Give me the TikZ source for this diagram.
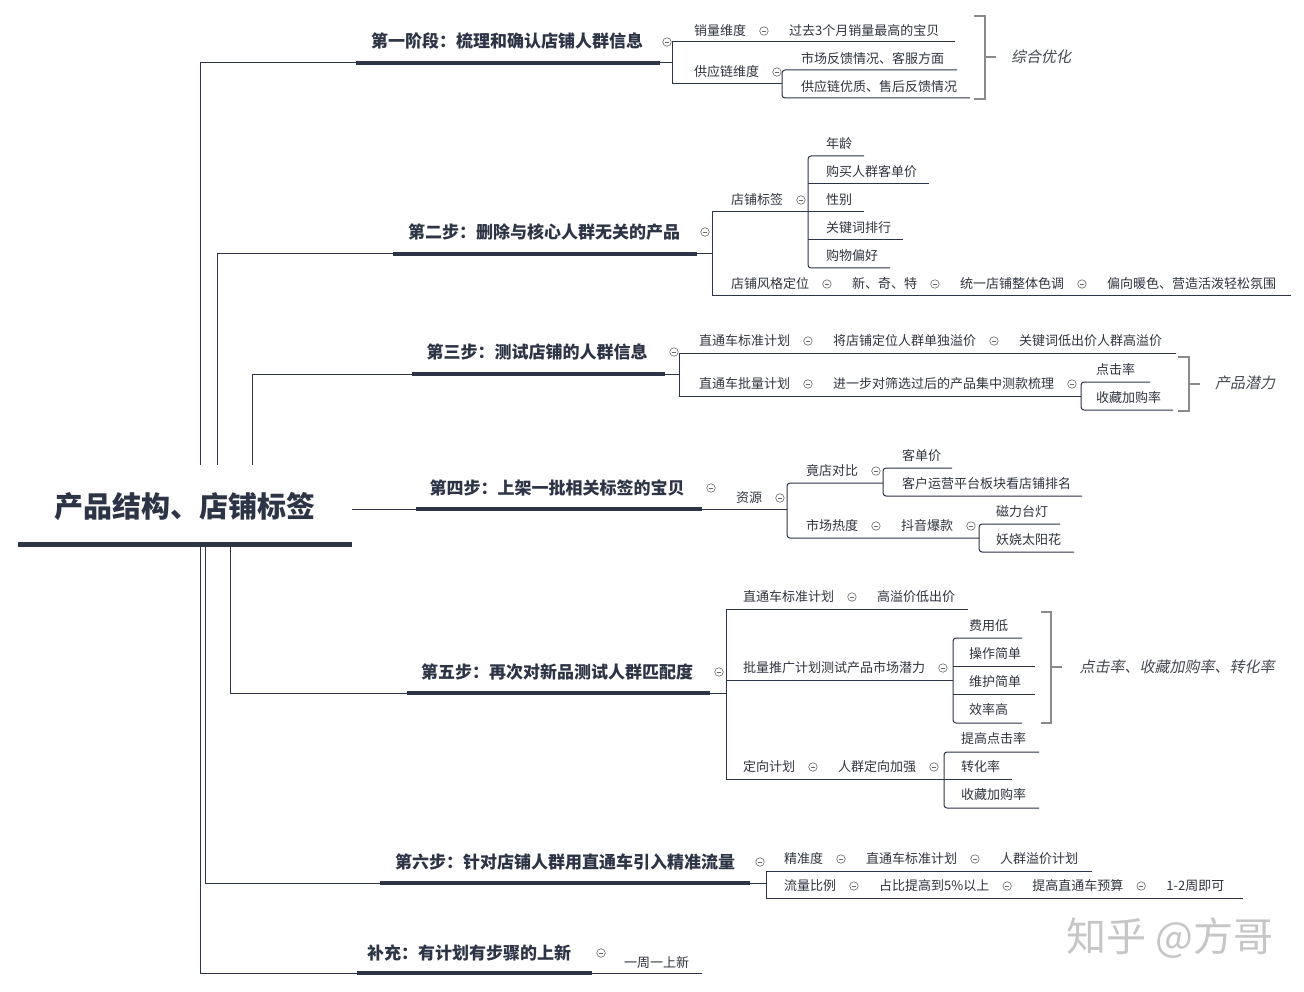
\documentclass[tikz,border=0pt]{standalone}
\usepackage{fontspec}
\setmainfont{Noto Sans CJK SC}[AutoFakeSlant=0.2]
\usetikzlibrary{positioning}

\definecolor{ink}{HTML}{2C3446}
\definecolor{txt}{HTML}{30343F}
\definecolor{brk}{HTML}{8A8A8A}
\definecolor{foldc}{HTML}{666666}

\tikzset{
  root/.style={font=\bfseries\fontsize{29}{29}\selectfont, text=ink, inner sep=0pt},
  topic/.style={font=\bfseries\fontsize{17}{17}\selectfont, text=ink, inner sep=0pt},
  lbl/.style={font=\fontsize{13}{13}\selectfont, text=txt, inner sep=0pt, anchor=west},
  note/.style={font=\itshape\fontsize{15}{15}\selectfont, text=txt!90, inner sep=0pt},
  bar/.style={line width=4pt, ink},
  rootbar/.style={line width=5pt, ink},
  link/.style={line width=1pt, ink},
  twig/.style={link, rounded corners=3pt},
  brace/.style={line width=1.4pt, brk},
  fold/.style={circle, draw=foldc, line width=0.6pt, fill=white, minimum size=8.5pt, inner sep=0pt,
    path picture={\draw[foldc, line width=0.6pt] ([xshift=-2.2pt]path picture bounding box.center) -- ([xshift=2.2pt]path picture bounding box.center);}},
  foldat/.style={fold, right=13pt of #1},
  follow/.style={lbl, right=20.5pt of #1},
}

\begin{document}
\begin{tikzpicture}[x=1pt, y=-1pt]
        \useasboundingbox[fill=white] (0,0) rectangle (1304,992);
        % Root
        \node[root] (root) at (185,507) {产品结构、店铺标签};
        \draw[rootbar] (18,544) -- (352,544);
        \coordinate (r1) at (200,465);
        \coordinate (r2) at (217,465);
        \coordinate (r3) at (252,465);
        \coordinate (r4) at (352,509);
        \coordinate (r5) at (230,546);
        \coordinate (r6) at (205,546);
        \coordinate (r7) at (200,546);
        % Stage underlines
        \coordinate (s1w) at (356,63);  \coordinate (s1e) at (660,63);
        \coordinate (s2w) at (393,254); \coordinate (s2e) at (697,254);
        \coordinate (s3w) at (412,374); \coordinate (s3e) at (665,374);
        \coordinate (s4w) at (416,509); \coordinate (s4e) at (702,509);
        \coordinate (s5w) at (407,693); \coordinate (s5e) at (710,693);
        \coordinate (s6w) at (380,883); \coordinate (s6e) at (750,883);
        \coordinate (s7w) at (357,973); \coordinate (s7e) at (592,973);
        \draw[link] (r1) |- (s1w);
        \draw[link] (r2) |- (s2w);
        \draw[link] (r3) |- (s3w);
        \draw[link] (r4) -- (s4w);
        \draw[link] (r5) |- (s5w);
        \draw[link] (r6) |- (s6w);
        \draw[link] (r7) |- (s7w);
        \foreach \s in {1,...,7}
            \draw[bar] (s\s w) -- (s\s e);

        % Stage 1
        \node[topic] (s1) at (507,41) {第一阶段：梳理和确认店铺人群信息};
        \draw[link] (s1e) -- (672,63);
        \draw[link] (955,42) -- (672,42) -- (672,84) -- (782,84);
        \draw[twig] (957,70) -- (782,70) -- (782,98) -- (970,98);
        \node[fold] (f1) at (667,42) {};
        \node[lbl] (a11) at (694,31) {销量维度};
        \node[foldat=a11] (f11) {};
        \node[follow=f11] (a12) {过去3个月销量最高的宝贝};
        \node[lbl] (a13) at (694,72) {供应链维度};
        \node[foldat=a13] (f13) {};
        \node[lbl] (a14) at (801,59) {市场反馈情况、客服方面};
        \node[lbl] (a15) at (801,87) {供应链优质、售后反馈情况};
        \draw[brace] (974,16) -- (985,16) -- (985,99) -- (974,99);
        \draw[brace] (985,57) -- (996,57);
        \node[note] (n1) at (1041,57) {综合优化};

        % Stage 2
        \node[topic] (s2) at (544,232) {第二步：删除与核心人群无关的产品};
        \draw[link] (s2e) -- (712,254);
        \draw[link] (808,212) -- (712,212) -- (712,296) -- (1291,296);
        \draw[twig] (864,156) -- (808,156) -- (808,268) -- (890,268);
        \draw[link] (808,184) -- (929,184);
        \draw[link] (808,212) -- (864,212);
        \draw[link] (808,240) -- (903,240);
        \node[fold] (f2) at (705,232) {};
        \node[lbl] (a21) at (731,200) {店铺标签};
        \node[foldat=a21] (f21) {};
        \node[lbl] (b21) at (826,144) {年龄};
        \node[lbl] (b22) at (826,172) {购买人群客单价};
        \node[lbl] (b23) at (826,200) {性别};
        \node[lbl] (b24) at (826,228) {关键词排行};
        \node[lbl] (b25) at (826,256) {购物偏好};
        \node[lbl] (a22) at (731,284) {店铺风格定位};
        \node[foldat=a22] (f22) {};
        \node[follow=f22] (a23) {新、奇、特};
        \node[foldat=a23] (f23) {};
        \node[follow=f23] (a24) {统一店铺整体色调};
        \node[foldat=a24] (f24) {};
        \node[follow=f24] (a25) {偏向暖色、营造活泼轻松氛围};

        % Stage 3
        \node[topic] (s3) at (537,352) {第三步：测试店铺的人群信息};
        \draw[link] (s3e) -- (679,374);
        \draw[link] (1176,353) -- (679,353) -- (679,396) -- (1081,396);
        \draw[twig] (1150,382) -- (1081,382) -- (1081,410) -- (1173,410);
        \node[fold] (f3) at (674,352) {};
        \node[lbl] (a31) at (699,341) {直通车标准计划};
        \node[foldat=a31] (f31) {};
        \node[follow=f31] (a32) {将店铺定位人群单独溢价};
        \node[foldat=a32] (f32) {};
        \node[follow=f32] (a33) {关键词低出价人群高溢价};
        \node[lbl] (a34) at (699,384) {直通车批量计划};
        \node[foldat=a34] (f34) {};
        \node[follow=f34] (a35) {进一步对筛选过后的产品集中测款梳理};
        \node[foldat=a35] (f35) {};
        \node[lbl] (b31) at (1096,370) {点击率};
        \node[lbl] (b32) at (1096,398) {收藏加购率};
        \draw[brace] (1178,357) -- (1189,357) -- (1189,411) -- (1178,411);
        \draw[brace] (1189,384) -- (1200,384);
        \node[note] (n3) at (1245,383) {产品潜力};

        % Stage 4
        \node[topic] (s4) at (557,488) {第四步：上架一批相关标签的宝贝};
        \draw[link] (s4e) -- (787,509);
        \draw[twig] (883,483) -- (787,483) -- (787,538) -- (979,538);
        \draw[twig] (952,468) -- (883,468) -- (883,496) -- (1082,496);
        \draw[twig] (1060,524) -- (979,524) -- (979,552) -- (1074,552);
        \node[fold] (f4) at (711,488) {};
        \node[lbl] (a41) at (736,498) {资源};
        \node[foldat=a41] (f41) {};
        \node[lbl] (a42) at (806,471) {竟店对比};
        \node[foldat=a42] (f42) {};
        \node[lbl] (b41) at (902,456) {客单价};
        \node[lbl] (b42) at (902,484) {客户运营平台板块看店铺排名};
        \node[lbl] (a43) at (806,526) {市场热度};
        \node[foldat=a43] (f43) {};
        \node[follow=f43] (a44) {抖音爆款};
        \node[foldat=a44] (f44) {};
        \node[lbl] (b43) at (996,512) {磁力台灯};
        \node[lbl] (b44) at (996,540) {妖娆太阳花};

        % Stage 5
        \node[topic] (s5) at (557,672) {第五步：再次对新品测试人群匹配度};
        \draw[link] (s5e) -- (726,693);
        \draw[link] (968,609) -- (726,609) -- (726,779) -- (944,779);
        \draw[link] (726,680) -- (953,680);
        \draw[twig] (1022,638) -- (953,638) -- (953,723) -- (1022,723);
        \draw[link] (953,666) -- (1035,666);
        \draw[link] (953,694) -- (1035,694);
        \draw[twig] (1039,752) -- (944,752) -- (944,808) -- (1039,808);
        \draw[link] (944,779) -- (1012,779);
        \node[fold] (f5) at (719,672) {};
        \node[lbl] (a51) at (743,597) {直通车标准计划};
        \node[foldat=a51] (f51) {};
        \node[follow=f51] (a52) {高溢价低出价};
        \node[lbl] (a53) at (743,668) {批量推广计划测试产品市场潜力};
        \node[foldat=a53] (f53) {};
        \node[lbl] (b51) at (969,626) {费用低};
        \node[lbl] (b52) at (969,654) {操作简单};
        \node[lbl] (b53) at (969,682) {维护简单};
        \node[lbl] (b54) at (969,710) {效率高};
        \draw[brace] (1041,612) -- (1051,612) -- (1051,723) -- (1041,723);
        \draw[brace] (1051,667) -- (1062,667);
        \node[note] (n5) at (1177,667) {点击率、收藏加购率、转化率};
        \node[lbl] (a54) at (743,767) {定向计划};
        \node[foldat=a54] (f54) {};
        \node[follow=f54] (a55) {人群定向加强};
        \node[foldat=a55] (f55) {};
        \node[lbl] (b55) at (961,739) {提高点击率};
        \node[lbl] (b56) at (961,767) {转化率};
        \node[lbl] (b57) at (961,795) {收藏加购率};

        % Stage 6
        \node[topic] (s6) at (565,862) {第六步：针对店铺人群用直通车引入精准流量};
        \draw[link] (s6e) -- (766,883);
        \draw[link] (1092,871) -- (766,871) -- (766,898) -- (1243,898);
        \node[fold] (f6) at (760,862) {};
        \node[lbl] (a61) at (784,859) {精准度};
        \node[foldat=a61] (f61) {};
        \node[follow=f61] (a62) {直通车标准计划};
        \node[foldat=a62] (f62) {};
        \node[follow=f62] (a63) {人群溢价计划};
        \node[lbl] (a64) at (784,886) {流量比例};
        \node[foldat=a64] (f64) {};
        \node[follow=f64] (a65) {占比提高到5\%以上};
        \node[foldat=a65] (f65) {};
        \node[follow=f65] (a66) {提高直通车预算};
        \node[foldat=a66] (f66) {};
        \node[follow=f66] (a67) {1-2周即可};

        % Supplement
        \node[topic] (s7) at (469,953) {补充：有计划有步骤的上新};
        \draw[link] (s7e) -- (702,973);
        \node[fold] (f7) at (601,953) {};
        \node[lbl] (a71) at (624,963) {一周一上新};

        % Watermark
        \node[font=\fontsize{40}{40}\selectfont, text=gray!45, inner sep=0pt] (wm) at (1170,938) {知乎 @方哥};
    \end{tikzpicture}
\end{document}
